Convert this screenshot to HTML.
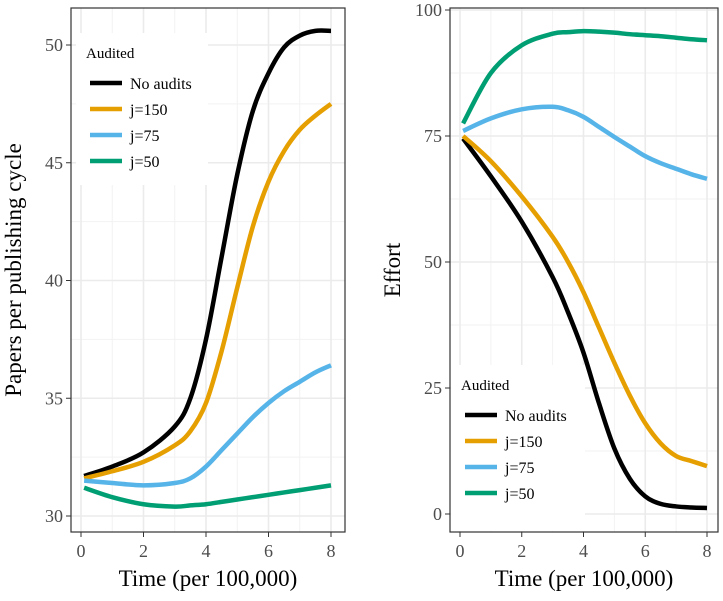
<!DOCTYPE html>
<html><head><meta charset="utf-8"><style>
body{margin:0;background:#fff}
svg text{font-family:"Liberation Serif",serif}
</style></head><body>
<svg id="c" width="723" height="596"></svg>
<script>
const xs=[0.1,1,2,3,3.5,4,4.5,5,5.5,6,6.5,7,7.5,8];
const papersNo=[31.7,32.1,32.7,33.8,35,37.5,41,44.5,47.2,48.8,49.9,50.4,50.6,50.6];
const papers150=[31.6,31.9,32.3,33.0,33.6,34.8,37,39.7,42.3,44.2,45.5,46.4,47,47.5];
const papers75=[31.5,31.4,31.3,31.4,31.6,32.1,32.8,33.5,34.2,34.8,35.3,35.7,36.1,36.4];
const papers50=[31.2,30.8,30.5,30.4,30.45,30.5,30.6,30.7,30.8,30.9,31.0,31.1,31.2,31.3];
const effortNo=[74.5,67,58,47,40,32,22,13,7,3.5,2,1.5,1.3,1.2];
const effort150=[75,70,63,55,50,44,37,30,23.5,18,14,11.5,10.5,9.5];
const effort75=[76,78.5,80.3,80.8,80.1,78.8,76.8,74.8,72.9,71,69.6,68.5,67.4,66.5];
const effort50=[77.5,87.5,93,95.3,95.6,95.8,95.7,95.5,95.2,95,94.8,94.5,94.2,94];
const xTicks=[0,2,4,6,8];
const leftTicks=[30,35,40,45,50];
const rightTicks=[0,25,50,75,100];
const seriesNames=["No audits","j=150","j=75","j=50"];
const colors=["#000000","#E69F00","#56B4E9","#009E73"];
const NS="http://www.w3.org/2000/svg";
const svg=document.getElementById('c');
function mk(t,a,p){const e=document.createElementNS(NS,t);for(const k in a)e.setAttribute(k,a[k]);(p||svg).appendChild(e);return e;}
function smooth(pts){let d='M'+pts[0][0]+','+pts[0][1];
  for(let i=0;i<pts.length-1;i++){const p0=pts[Math.max(0,i-1)],p1=pts[i],p2=pts[i+1],p3=pts[Math.min(pts.length-1,i+2)];
    const c1=[p1[0]+(p2[0]-p0[0])/6,p1[1]+(p2[1]-p0[1])/6],c2=[p2[0]-(p3[0]-p1[0])/6,p2[1]-(p3[1]-p1[1])/6];
    d+=` C${c1[0]},${c1[1]} ${c2[0]},${c2[1]} ${p2[0]},${p2[1]}`;}
  return d;}
function panel(name,box,xr,yr,yt,series,title,legPos){
  const g=mk('g',{});
  
  
  const X=v=>box.x0+(v-xr[0])/(xr[1]-xr[0])*(box.x1-box.x0);
  const Y=v=>box.y0+(v-yr[0])/(yr[1]-yr[0])*(box.y1-box.y0);
  for(let i=0;i<xTicks.length-1;i++){const v=(xTicks[i]+xTicks[i+1])/2;mk('line',{x1:X(v),x2:X(v),y1:box.top,y2:box.bot,stroke:'#f2f2f2','stroke-width':1},g);}
  for(let i=0;i<yt.length-1;i++){const v=(yt[i]+yt[i+1])/2;mk('line',{x1:box.l,x2:box.r,y1:Y(v),y2:Y(v),stroke:'#f2f2f2','stroke-width':1},g);}
  xTicks.forEach(v=>{mk('line',{x1:X(v),x2:X(v),y1:box.top,y2:box.bot,stroke:'#ebebeb','stroke-width':1.6},g);
    mk('line',{x1:X(v),x2:X(v),y1:box.bot,y2:box.bot+5,stroke:'#333'},g);
    const t=mk('text',{x:X(v),y:box.bot+25,'text-anchor':'middle','font-size':18,fill:'#4d4d4d'},g);t.textContent=v;
    });
  yt.forEach(v=>{mk('line',{x1:box.l,x2:box.r,y1:Y(v),y2:Y(v),stroke:'#ebebeb','stroke-width':1.6},g);
    mk('line',{x1:box.l-5,x2:box.l,y1:Y(v),y2:Y(v),stroke:'#333'},g);
    const t=mk('text',{x:box.l-8,y:Y(v)+6,'text-anchor':'end','font-size':18,fill:'#4d4d4d'},g);t.textContent=v;
    });
  series.forEach((s,i)=>{const p=mk('path',{d:smooth(xs.map((x,j)=>[X(x),Y(s[j])])),fill:'none',stroke:colors[i],'stroke-width':4.5,'stroke-linejoin':'round'},g);
    });
  mk('rect',{x:box.l,y:box.top,width:box.r-box.l,height:box.bot-box.top,fill:'none',stroke:'#333','stroke-width':1.2},g);
  const xt=mk('text',{x:(box.l+box.r)/2,y:586,'text-anchor':'middle','font-size':23,fill:'#000'},g);xt.textContent='Time (per 100,000)';
  
  const cy=(box.top+box.bot)/2;
  const yT=mk('text',{x:box.l-50,y:cy,'text-anchor':'middle','font-size':23,transform:`rotate(-90 ${box.l-50} ${cy})`},g);yT.textContent=title;
  
  const lg=mk('g',{},g);
  
  mk('rect',{x:legPos.x,y:legPos.y,width:legPos.w,height:legPos.h,fill:'#fff'},lg);
  const lt=mk('text',{x:legPos.x+10,y:legPos.y+25,'font-size':15},lg);lt.textContent='Audited';
  seriesNames.forEach((n,i)=>{const yy=legPos.y+50+i*26;
    const e=mk('g',{},lg);
    mk('line',{x1:legPos.x+14,x2:legPos.x+46,y1:yy,y2:yy,stroke:colors[i],'stroke-width':4.5},e);
    const t=mk('text',{x:legPos.x+54,y:yy+6,'font-size':16},e);t.textContent=n;});
}
panel('left-panel',{l:71,r:345,top:8,bot:532,x0:81,x1:331,y0:516,y1:45},[0,8],[30,50],leftTicks,[papersNo,papers150,papers75,papers50],'Papers per publishing cycle',{x:76,y:33,w:132,h:152});
panel('right-panel',{l:450,r:718,top:8,bot:532,x0:460,x1:707,y0:514,y1:10},[0,8],[0,100],rightTicks,[effortNo,effort150,effort75,effort50],'Effort',{x:451,y:365,w:134,h:166});
</script>
</body></html>
